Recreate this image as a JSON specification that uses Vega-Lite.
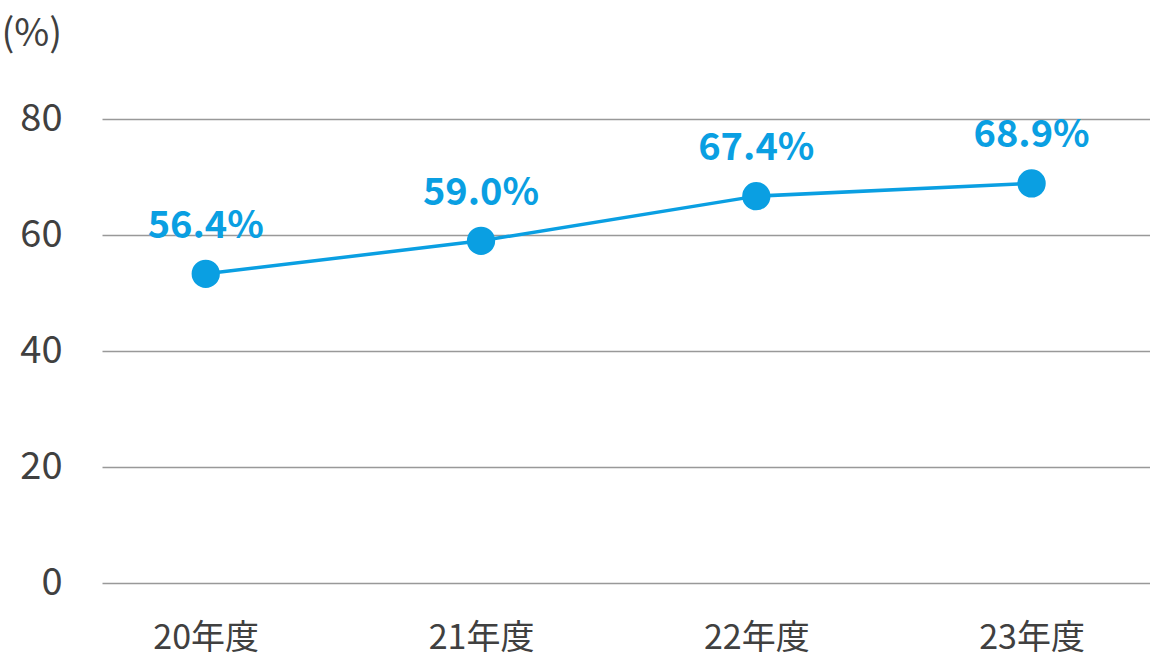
{
  "$schema": "https://vega.github.io/schema/vega-lite/v6.json",
  "width": 1048,
  "height": 464,
  "autosize": {"type": "none"},
  "padding": {"left": 102, "top": 119, "right": 0, "bottom": 77},
  "background": "white",
  "config": {"view": {"stroke": null}, "font": "Noto Sans CJK JP"},
  "data": {
    "values": [
      {"year": "20年度", "value": 53.3, "label": "56.4%"},
      {"year": "21年度", "value": 59.0, "label": "59.0%"},
      {"year": "22年度", "value": 66.7, "label": "67.4%"},
      {"year": "23年度", "value": 68.9, "label": "68.9%"}
    ]
  },
  "encoding": {
    "x": {
      "field": "year",
      "type": "ordinal",
      "sort": null,
      "scale": {"type": "point", "padding": 0.4035, "align": 0.467},
      "axis": {
        "title": null,
        "labelAngle": 0,
        "domain": false,
        "ticks": false,
        "grid": false,
        "labelFont": "Noto Sans CJK JP",
        "labelFontSize": 34,
        "labelColor": "#404040",
        "labelPadding": 38,
        "labelBaseline": "top"
      }
    },
    "y": {
      "field": "value",
      "type": "quantitative",
      "scale": {"domain": [0, 80], "nice": false, "zero": true},
      "axis": {
        "values": [0, 20, 40, 60, 80],
        "title": "(%)",
        "titleAngle": 0,
        "titleAlign": "left",
        "titleBaseline": "top",
        "titleX": -101,
        "titleY": -104,
        "titleFont": "Noto Sans CJK JP",
        "titleFontSize": 38,
        "titleFontWeight": "normal",
        "titleColor": "#404040",
        "grid": true,
        "gridColor": "#999999",
        "gridWidth": 1.5,
        "domain": false,
        "ticks": false,
        "labelFont": "Noto Sans CJK JP",
        "labelFontSize": 38,
        "labelColor": "#404040",
        "labelPadding": 40
      }
    }
  },
  "layer": [
    {"mark": {"type": "line", "color": "#0a9fe2", "strokeWidth": 3.5}},
    {"mark": {"type": "circle", "size": 800, "opacity": 1, "color": "#0a9fe2"}},
    {
      "mark": {"type": "text", "dy": -36, "baseline": "alphabetic", "fontSize": 38, "fontWeight": "bold", "color": "#0a9fe2"},
      "encoding": {"text": {"field": "label"}}
    }
  ]
}
